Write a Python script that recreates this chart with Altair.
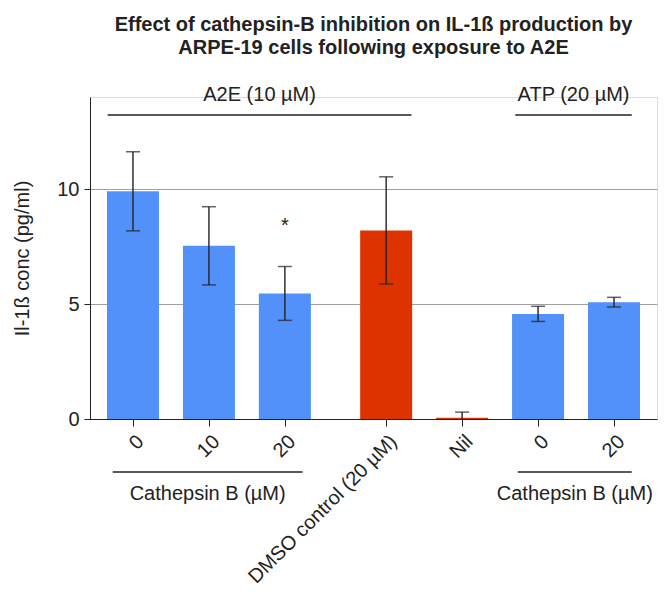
import altair as alt
import pandas as pd

# ---- data ----
labels = ["0", "10", "20", "DMSO control (20 µM)", "Nil", "0", "20"]
values = [9.9, 7.53, 5.46, 8.2, 0.05, 4.57, 5.08]
errors = [1.72, 1.70, 1.17, 2.33, 0.25, 0.33, 0.21]
kinds = ["treat", "treat", "treat", "control", "control", "treat", "treat"]
marks = ["", "", "*", "", "", "", ""]

top_groups = ["A2E (10 µM)", "ATP (20 µM)"]
top_members = [[0, 1, 2, 3], [5, 6]]
bottom_groups = ["Cathepsin B (µM)", "Cathepsin B (µM)"]
bottom_members = [[0, 1, 2], [5, 6]]

FONT = "Liberation Sans"
BLUE = "#5291F9"
RED = "#DD3300"
INK = "#222222"
FS = 20

# x positions: 3 units per bar, an extra unit gap after the first block
pos = [i * 3 + (1 if i >= 3 else 0) for i in range(len(labels))]

df = pd.DataFrame({
    "pos": pos,
    "label": labels,
    "value": values,
    "lo": [v - e for v, e in zip(values, errors)],
    "hi": [v + e for v, e in zip(values, errors)],
    "kind": kinds,
    "mark": marks,
})
df["star_y"] = df["hi"] + 1.75


def spans(names, members, pad_l, pad_r):
    rows = []
    for n, m in zip(names, members):
        x1 = pos[m[0]] - pad_l
        x2 = pos[m[-1]] + pad_r
        rows.append({"name": n, "x1": x1, "x2": x2, "xm": (x1 + x2) / 2})
    return pd.DataFrame(rows)


top_df = pd.concat([spans(top_groups[:1], top_members[:1], 1.0, 1.0),
                    spans(top_groups[1:], top_members[1:], 0.9, 0.7)])
bot_df = spans(bottom_groups, bottom_members, 0.8, 0.7)

label_expr = " : ".join(
    f"datum.value == {p} ? '{l}'" for p, l in zip(pos, labels)
) + " : ''"

xscale = alt.Scale(domain=[-1.5, 20.5], nice=False, zero=False)
yscale = alt.Scale(domain=[0, 14], nice=False)

base = alt.Chart(df)

bars = base.mark_bar(size=52, orient="vertical").encode(
    x=alt.X("pos:Q", scale=xscale, title=None,
            axis=alt.Axis(values=pos, labelExpr=label_expr, labelAngle=-45,
                          labelFontSize=FS, labelFont=FONT, labelColor=INK,
                          tickSize=7, tickColor=INK, domainColor=INK,
                          grid=False, labelPadding=5, labelOverlap=False,
                          labelLimit=400)),
    y=alt.Y("value:Q", scale=yscale, stack=None,
            title="Il-1ß conc (pg/ml)",
            axis=alt.Axis(values=[0, 5, 10], grid=True, gridColor="#A0A0A0",
                          gridWidth=1.2, labelFontSize=FS, labelFont=FONT,
                          labelColor=INK, tickSize=6, tickColor=INK,
                          domainColor=INK, titleFontSize=FS, titleFont=FONT,
                          titleFontWeight="normal", titleColor=INK,
                          titlePadding=24, labelPadding=5)),
    color=alt.Color("kind:N", scale=alt.Scale(domain=["treat", "control"],
                                              range=[BLUE, RED]), legend=None),
)

err = base.mark_rule(color=INK, strokeWidth=1.4, clip=True).encode(
    x="pos:Q", y="lo:Q", y2="hi:Q")
cap_hi = base.mark_tick(orient="horizontal", size=14, thickness=1.5,
                        color=INK, clip=True).encode(x="pos:Q", y="hi:Q")
cap_lo = base.mark_tick(orient="horizontal", size=14, thickness=1.5,
                        color=INK, clip=True).encode(x="pos:Q", y="lo:Q")

stars = base.mark_text(fontSize=FS, font=FONT, color=INK,
                       baseline="middle").encode(
    x="pos:Q", y="star_y:Q", text="mark:N")

top_lines = alt.Chart(top_df).mark_rule(color=INK, strokeWidth=1.3).encode(
    x="x1:Q", x2="x2:Q", y=alt.value(18))
top_text = alt.Chart(top_df).mark_text(fontSize=FS, font=FONT, color=INK,
                                       baseline="middle").encode(
    x="xm:Q", y=alt.value(-2), text="name:N")

bot_lines = alt.Chart(bot_df).mark_rule(color=INK, strokeWidth=1.3).encode(
    x="x1:Q", x2="x2:Q", y=alt.value(375))
bot_text = alt.Chart(bot_df).mark_text(fontSize=FS, font=FONT, color=INK,
                                       baseline="middle").encode(
    x="xm:Q", y=alt.value(397), text="name:N")

chart = alt.layer(bars, err, cap_hi, cap_lo, stars, top_lines, top_text,
                  bot_lines, bot_text).properties(
    width=567, height=322,
    padding={"left": 4, "top": 7, "right": 5, "bottom": 5},
    title=alt.TitleParams(
        text=["Effect of cathepsin-B inhibition on IL-1ß production by",
              "ARPE-19 cells following exposure to A2E"],
        fontSize=20, font=FONT, fontWeight="bold", color=INK,
        lineHeight=23, anchor="middle", offset=27),
).configure_view(stroke=None).configure(background="white")

chart.save("out.html", embed_options={"renderer": "svg", "actions": False})
